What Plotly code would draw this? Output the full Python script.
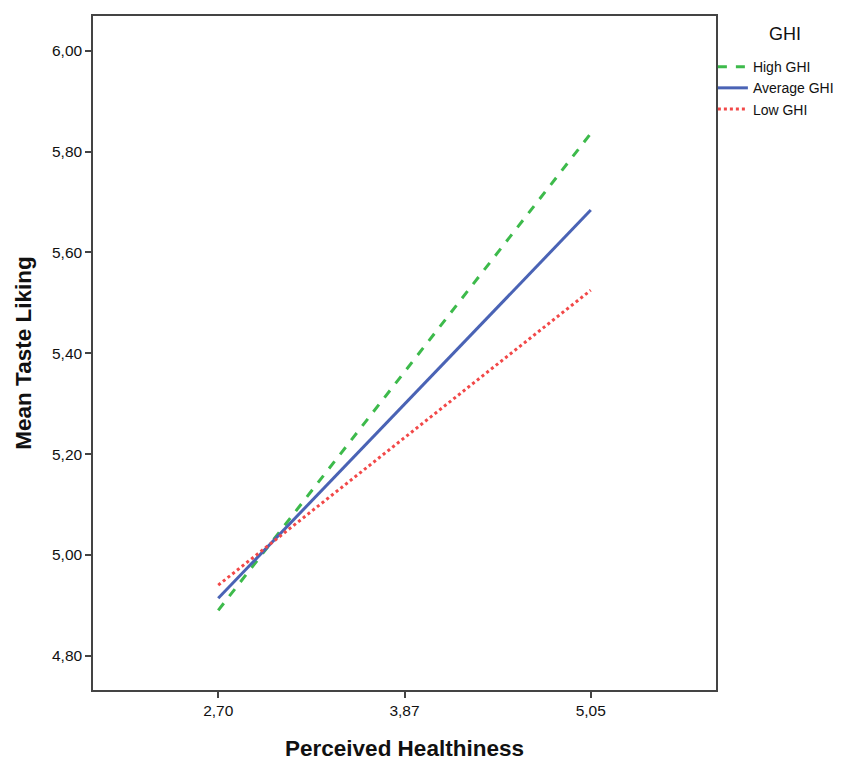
import plotly.graph_objects as go

# Data
x_values = [2.70, 5.05]
series_names = ["High GHI", "Average GHI", "Low GHI"]
high_ghi = [4.890, 5.836]
average_ghi = [4.914, 5.684]
low_ghi = [4.940, 5.525]
x_tick_vals = [2.70, 3.875, 5.05]
x_tick_text = ["2,70", "3,87", "5,05"]
y_tick_vals = [4.80, 5.00, 5.20, 5.40, 5.60, 5.80, 6.00]

styles = [
    dict(color="#3dba4b", dash="dash"),
    dict(color="#4a63b5", dash="solid"),
    dict(color="#f24848", dash="dot"),
]

fig = go.Figure()
for name, ys, st in zip(series_names, [high_ghi, average_ghi, low_ghi], styles):
    fig.add_trace(go.Scatter(
        x=x_values, y=ys, mode="lines", name=name,
        line=dict(color=st["color"], dash=st["dash"], width=3),
    ))

fam = "Liberation Sans, Arial"
axis_font = dict(family=fam, size=15.5, color="#111")
title_font = dict(size=22.5, family=fam, color="#111")
fig.update_layout(
    width=850, height=760,
    margin=dict(l=85, r=142, t=6, b=78),
    paper_bgcolor="white", plot_bgcolor="white",
    separators=",.",
    font=dict(family=fam, size=14, color="#111"),
    legend=dict(
        x=0.995, xanchor="left", y=0.948, yanchor="top",
        font=dict(size=14, color="#111"),
        bgcolor="rgba(0,0,0,0)",
        itemwidth=30,
        tracegroupgap=0,
    ),
    annotations=[dict(
        text="GHI", xref="paper", yref="paper", x=1.111, y=0.973,
        xanchor="center", yanchor="middle", showarrow=False,
        font=dict(size=18, family=fam, color="#111"),
    )],
    xaxis=dict(
        range=[1.91, 5.84], tickvals=x_tick_vals, ticktext=x_tick_text,
        showgrid=False, zeroline=False, showline=True, mirror=True,
        linecolor="#444", linewidth=1.5, ticks="outside", ticklen=6,
        tickcolor="#444", tickwidth=1.5, tickfont=axis_font,
        title=dict(text="<b>Perceived Healthiness</b>", font=title_font, standoff=22),
    ),
    yaxis=dict(
        range=[4.732, 6.069], tickvals=y_tick_vals, tickformat=".2f",
        showgrid=False, zeroline=False, showline=True, mirror=True,
        linecolor="#444", linewidth=1.5, ticks="outside", ticklen=6,
        tickcolor="#444", tickwidth=1.5, tickfont=axis_font,
        title=dict(text="<b>Mean Taste Liking</b>", font=title_font, standoff=14),
    ),
)

fig.write_html("out.html")
